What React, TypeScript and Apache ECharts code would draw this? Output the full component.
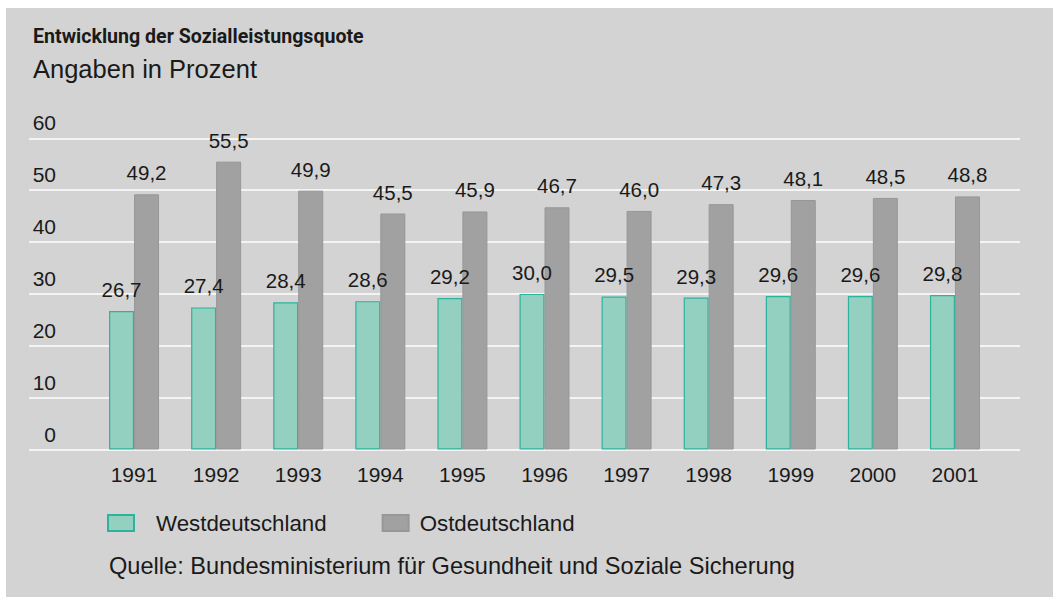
import React, { useEffect, useRef } from "react";
import * as echarts from "echarts";

const years = ["1991", "1992", "1993", "1994", "1995", "1996", "1997", "1998", "1999", "2000", "2001"];
const west = [26.7, 27.4, 28.4, 28.6, 29.2, 30.0, 29.5, 29.3, 29.6, 29.6, 29.8];
const ost = [49.2, 55.5, 49.9, 45.5, 45.9, 46.7, 46.0, 47.3, 48.1, 48.5, 48.8];
const yTicks = { min: 0, max: 60, interval: 10 };

const FONT = "Liberation Sans";
const TXT = "#1a1a1a";

const fmt = (v: number) => v.toFixed(1).replace(".", ",");

export default function App() {
  const ref = useRef<HTMLDivElement>(null);
  useEffect(() => {
    if (!ref.current) return;
    const chart = echarts.init(ref.current, undefined, { renderer: "svg" });
    const top = 138.3;
    const bottom = 597 - 449.5;
    chart.setOption({
      animation: false,
      backgroundColor: "#ffffff",
      textStyle: { fontFamily: FONT, color: TXT },
      title: [
        {
          text: "Entwicklung der Sozialleistungsquote",
          left: 33,
          top: 26,
          padding: 0,
          textStyle: { fontFamily: "Roboto", fontSize: 19.6, fontWeight: "bold", color: TXT },
        },
        {
          text: "Angaben in Prozent",
          left: 33,
          top: 56,
          padding: 0,
          textStyle: { fontFamily: FONT, fontSize: 25.5, fontWeight: "normal", color: TXT },
        },
        {
          text: "Quelle: Bundesministerium für Gesundheit und Soziale Sicherung",
          left: 109,
          top: 554,
          padding: 0,
          textStyle: { fontFamily: FONT, fontSize: 23.6, fontWeight: "normal", color: TXT },
        },
      ],
      graphic: [
        {
          type: "rect",
          z: -10,
          silent: true,
          shape: { x: 6, y: 8, width: 1047, height: 589 },
          style: { fill: "#d3d3d3" },
        },
      ],
      legend: {
        left: 107,
        top: 512,
        padding: 0,
        icon: "rect",
        itemWidth: 26,
        itemHeight: 16,
        itemGap: 55,
        textStyle: { fontFamily: FONT, fontSize: 22.3, color: TXT },
        data: [
          { name: "Westdeutschland", textStyle: { padding: [0, 0, 0, 17] } },
          { name: "Ostdeutschland", textStyle: { padding: [0, 0, 0, 6] } },
        ],
      },
      grid: [
        { left: 29, right: 36, top, bottom },
        { left: 93, right: 60, top, bottom },
      ],
      xAxis: [
        { type: "value", gridIndex: 0, show: false, min: 0, max: 1 },
        {
          type: "category",
          gridIndex: 1,
          data: years,
          axisLine: { show: false },
          axisTick: { show: false },
          axisLabel: { fontFamily: FONT, fontSize: 21, color: TXT, margin: 14 },
        },
      ],
      yAxis: [
        {
          type: "value",
          gridIndex: 0,
          min: yTicks.min,
          max: yTicks.max,
          interval: yTicks.interval,
          axisLine: { show: false },
          axisTick: { show: false },
          splitLine: { lineStyle: { color: "#ffffff", width: 1.5 } },
          axisLabel: {
            fontFamily: FONT,
            fontSize: 21,
            color: TXT,
            align: "right",
            verticalAlign: "bottom",
            margin: -27,
            padding: [0, 0, 5, 0],
          },
        },
        {
          type: "value",
          gridIndex: 1,
          min: yTicks.min,
          max: yTicks.max,
          interval: yTicks.interval,
          show: false,
          splitLine: { show: false },
        },
      ],
      series: [
        {
          name: "Westdeutschland",
          type: "bar",
          xAxisIndex: 1,
          yAxisIndex: 1,
          data: west,
          barWidth: 25,
          barGap: "0%",
          itemStyle: { color: "#94d0c0", borderColor: "#2db29c", borderWidth: 1.2 },
          label: {
            show: true,
            position: "top",
            distance: 11,
            fontFamily: FONT,
            fontSize: 20.5,
            color: TXT,
            formatter: (p: any) => fmt(p.value),
          },
        },
        {
          name: "Ostdeutschland",
          type: "bar",
          xAxisIndex: 1,
          yAxisIndex: 1,
          data: ost,
          barWidth: 25,
          barGap: "0%",
          itemStyle: { color: "#a1a1a1", borderColor: "#979797", borderWidth: 1 },
          label: {
            show: true,
            position: "top",
            distance: 11,
            fontFamily: FONT,
            fontSize: 20.5,
            color: TXT,
            formatter: (p: any) => fmt(p.value),
          },
        },
      ],
    });
    return () => chart.dispose();
  }, []);
  return (
    <div
      ref={ref}
      style={{ position: "absolute", left: 0, top: 0, width: 1056, height: 597 }}
    />
  );
}
